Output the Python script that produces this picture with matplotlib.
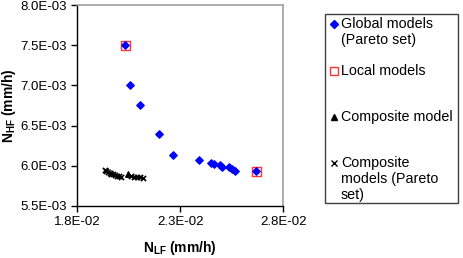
import matplotlib
matplotlib.use("Agg")
import matplotlib.pyplot as plt
from matplotlib.ticker import FuncFormatter
from matplotlib.patches import Rectangle

plt.rcParams['font.family'] = ['Liberation Sans', 'DejaVu Sans']
plt.rcParams['mathtext.fontset'] = 'custom'
plt.rcParams['mathtext.rm'] = 'Liberation Sans'
plt.rcParams['mathtext.bf'] = 'Liberation Sans:bold'

# global models (Pareto set)
global_nlf = [0.02034, 0.02059, 0.02106, 0.02197, 0.02267, 0.02392, 0.02449, 0.02465,
              0.02493, 0.02504, 0.02538, 0.02550, 0.02566, 0.02668]
global_nhf = [7.50e-3, 7.00e-3, 6.75e-3, 6.40e-3, 6.13e-3, 6.075e-3, 6.04e-3, 6.025e-3,
              6.01e-3, 5.99e-3, 5.99e-3, 5.96e-3, 5.94e-3, 5.935e-3]
# local models
local_nlf = [0.02034, 0.02668]
local_nhf = [7.50e-3, 5.935e-3]
# composite model
comp_nlf = [0.02049]
comp_nhf = [5.895e-3]
# composite models (Pareto set)
compp_nlf = [0.01937, 0.01942, 0.01950, 0.01958, 0.01966, 0.01975, 0.01985, 0.01995,
             0.02005, 0.02012, 0.02063, 0.02078, 0.02093, 0.02107, 0.02122]
compp_nhf = [5.95e-3, 5.935e-3, 5.925e-3, 5.91e-3, 5.90e-3, 5.895e-3, 5.885e-3, 5.875e-3,
             5.87e-3, 5.865e-3, 5.87e-3, 5.865e-3, 5.86e-3, 5.855e-3, 5.85e-3]

xticks = [0.018, 0.023, 0.028]
yticks = [5.5e-3, 6.0e-3, 6.5e-3, 7.0e-3, 7.5e-3, 8.0e-3]
legend_labels = ['Global models\n(Pareto set)', 'Local models', 'Composite model',
                 'Composite\nmodels (Pareto\nset)']

W, H = 463, 258
fig = plt.figure(figsize=(W / 100, H / 100), dpi=100)
ax = fig.add_axes([0.1663, 0.2016, 0.612 - 0.1663, 0.9806 - 0.2016])

ax.scatter(global_nlf, global_nhf, marker='D', s=14, color='#0000ff', zorder=3)
ax.scatter(local_nlf, local_nhf, marker='s', s=42, facecolors='none', edgecolors='#ff3333',
           linewidths=1.0, zorder=2)
ax.scatter(comp_nlf, comp_nhf, marker='^', s=16, color='black', zorder=3)
ax.scatter(compp_nlf, compp_nhf, marker='x', s=14, color='black', linewidths=1.2, zorder=3)

ax.set_xlim(0.018, 0.028)
ax.set_ylim(5.5e-3, 8.0e-3)
ax.set_xticks(xticks)
ax.set_yticks(yticks)
fmt = FuncFormatter(lambda v, p: '%.1E' % v)
ax.xaxis.set_major_formatter(fmt)
ax.yaxis.set_major_formatter(fmt)
ax.tick_params(direction='out', length=4, width=1, labelsize=9.5, pad=3)

for s in ['top', 'right']:
    ax.spines[s].set_color('#a0a0a0')
    ax.spines[s].set_linewidth(1.2)
for s in ['left', 'bottom']:
    ax.spines[s].set_color('black')
    ax.spines[s].set_linewidth(1.0)

ax.set_xlabel(r'$\mathbf{N_{LF}}$ (mm/h)', fontsize=10, fontweight='bold', labelpad=8)
ax.set_ylabel(r'$\mathbf{N_{HF}}$ (mm/h)', fontsize=10, fontweight='bold', labelpad=2)

# legend drawn by hand so the markers sit on the first line of each entry
def fx(px):
    return px / W

def fy(py):
    return 1 - py / H

fig.patches.append(Rectangle((fx(325), fy(203)), fx(458) - fx(325), fy(14) - fy(203),
                             transform=fig.transFigure, facecolor='white',
                             edgecolor='#404040', linewidth=1.0))
first_line_y = [24, 71, 117, 163]
marker_styles = [dict(marker='D', markersize=4, color='#0000ff', linestyle='none'),
                 dict(marker='s', markersize=6, markerfacecolor='none',
                      markeredgecolor='#ff3333', markeredgewidth=1.0, linestyle='none'),
                 dict(marker='^', markersize=5, color='black', linestyle='none'),
                 dict(marker='x', markersize=4, color='black', markeredgewidth=1.0,
                      linestyle='none')]
for lab, py, st in zip(legend_labels, first_line_y, marker_styles):
    fig.add_artist(plt.Line2D([fx(334)], [fy(py)], transform=fig.transFigure, **st))
    fig.text(fx(341), fy(py - 7), lab, fontsize=10.3, va='top', ha='left')

fig.savefig('out.png', dpi=100)
